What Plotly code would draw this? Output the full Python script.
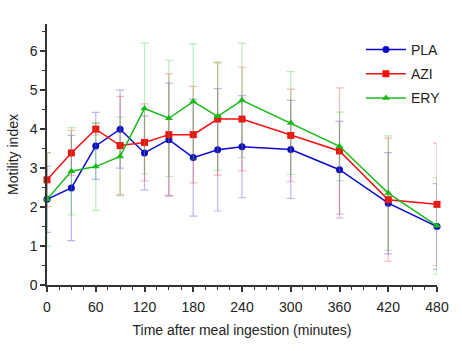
import plotly.graph_objects as go

times = [0, 30, 60, 90, 120, 150, 180, 210, 240, 300, 360, 420, 480]

pla_mean = [2.20, 2.49, 3.57, 4.00, 3.39, 3.73, 3.27, 3.47, 3.55, 3.48, 2.96, 2.10, 1.50]
pla_err = [0.85, 1.35, 0.86, 1.00, 0.95, 1.45, 1.50, 1.57, 1.31, 1.26, 1.24, 1.30, 1.10]

azi_mean = [2.70, 3.39, 4.00, 3.58, 3.66, 3.86, 3.86, 4.26, 4.26, 3.84, 3.44, 2.19, 2.07]
azi_err = [0.69, 0.58, 0.15, 1.26, 0.99, 1.56, 1.24, 1.44, 1.33, 1.19, 1.62, 1.58, 1.57]

ery_mean = [2.20, 2.92, 3.04, 3.30, 4.53, 4.28, 4.71, 4.33, 4.74, 4.16, 3.56, 2.36, 1.52]
ery_err = [1.20, 1.12, 1.13, 1.01, 1.68, 1.49, 1.48, 1.39, 1.47, 1.32, 0.88, 1.47, 1.24]

x_ticks = [0, 60, 120, 180, 240, 300, 360, 420, 480]
y_ticks = [0, 1, 2, 3, 4, 5, 6]

series = [
    ("PLA", pla_mean, pla_err, "#0a0acc", "rgba(40,40,220,0.33)", "circle", 7),
    ("AZI", azi_mean, azi_err, "#f21010", "rgba(240,40,40,0.33)", "square", 7),
    ("ERY", ery_mean, ery_err, "#18bb18", "rgba(40,200,40,0.33)", "triangle-up", 7),
]

fig = go.Figure()
for name, m, e, col, ecol, sym, sz in series:
    fig.add_trace(go.Scatter(
        x=times, y=m, name=name, mode="lines+markers", legendgroup=name,
        line=dict(color=col, width=1.5),
        marker=dict(symbol=sym, size=sz, color=col),
        error_y=dict(type="data", array=e, visible=True, color=ecol,
                     thickness=1.2, width=4),
        cliponaxis=False,
    ))

font = "Liberation Sans, Arial, sans-serif"
fig.update_layout(
    width=462, height=351,
    margin=dict(l=45, r=25, t=24, b=66),
    plot_bgcolor="white", paper_bgcolor="white",
    font=dict(family=font, size=14, color="#222"),
    showlegend=True,
    legend=dict(x=0.805, y=0.962, xanchor="left", yanchor="top",
                bgcolor="rgba(0,0,0,0)", font=dict(size=14, color="#222"),
                itemwidth=40, tracegroupgap=3),
    xaxis=dict(range=[0, 480], tickvals=x_ticks, ticks="outside", ticklen=5,
               tickwidth=1.5, tickcolor="#333", showline=True, linecolor="#333",
               linewidth=1.5, showgrid=False, zeroline=False, ticklabelstandoff=3,
               minor=dict(dtick=15, ticks="outside", ticklen=3, tickcolor="#333", tickwidth=1.2),
               title=dict(text="Time after meal ingestion (minutes)", standoff=12,
                          font=dict(size=14))),
    yaxis=dict(range=[0, 6.7], tickvals=y_ticks, ticks="outside", ticklen=5,
               tickwidth=1.5, tickcolor="#333", showline=True, linecolor="#333",
               linewidth=1.5, showgrid=False, zeroline=False,
               minor=dict(dtick=0.5, ticks="outside", ticklen=3, tickcolor="#333", tickwidth=1.2),
               title=dict(text="Motility index", standoff=8, font=dict(size=14))),
)

fig.write_html("out.html")
